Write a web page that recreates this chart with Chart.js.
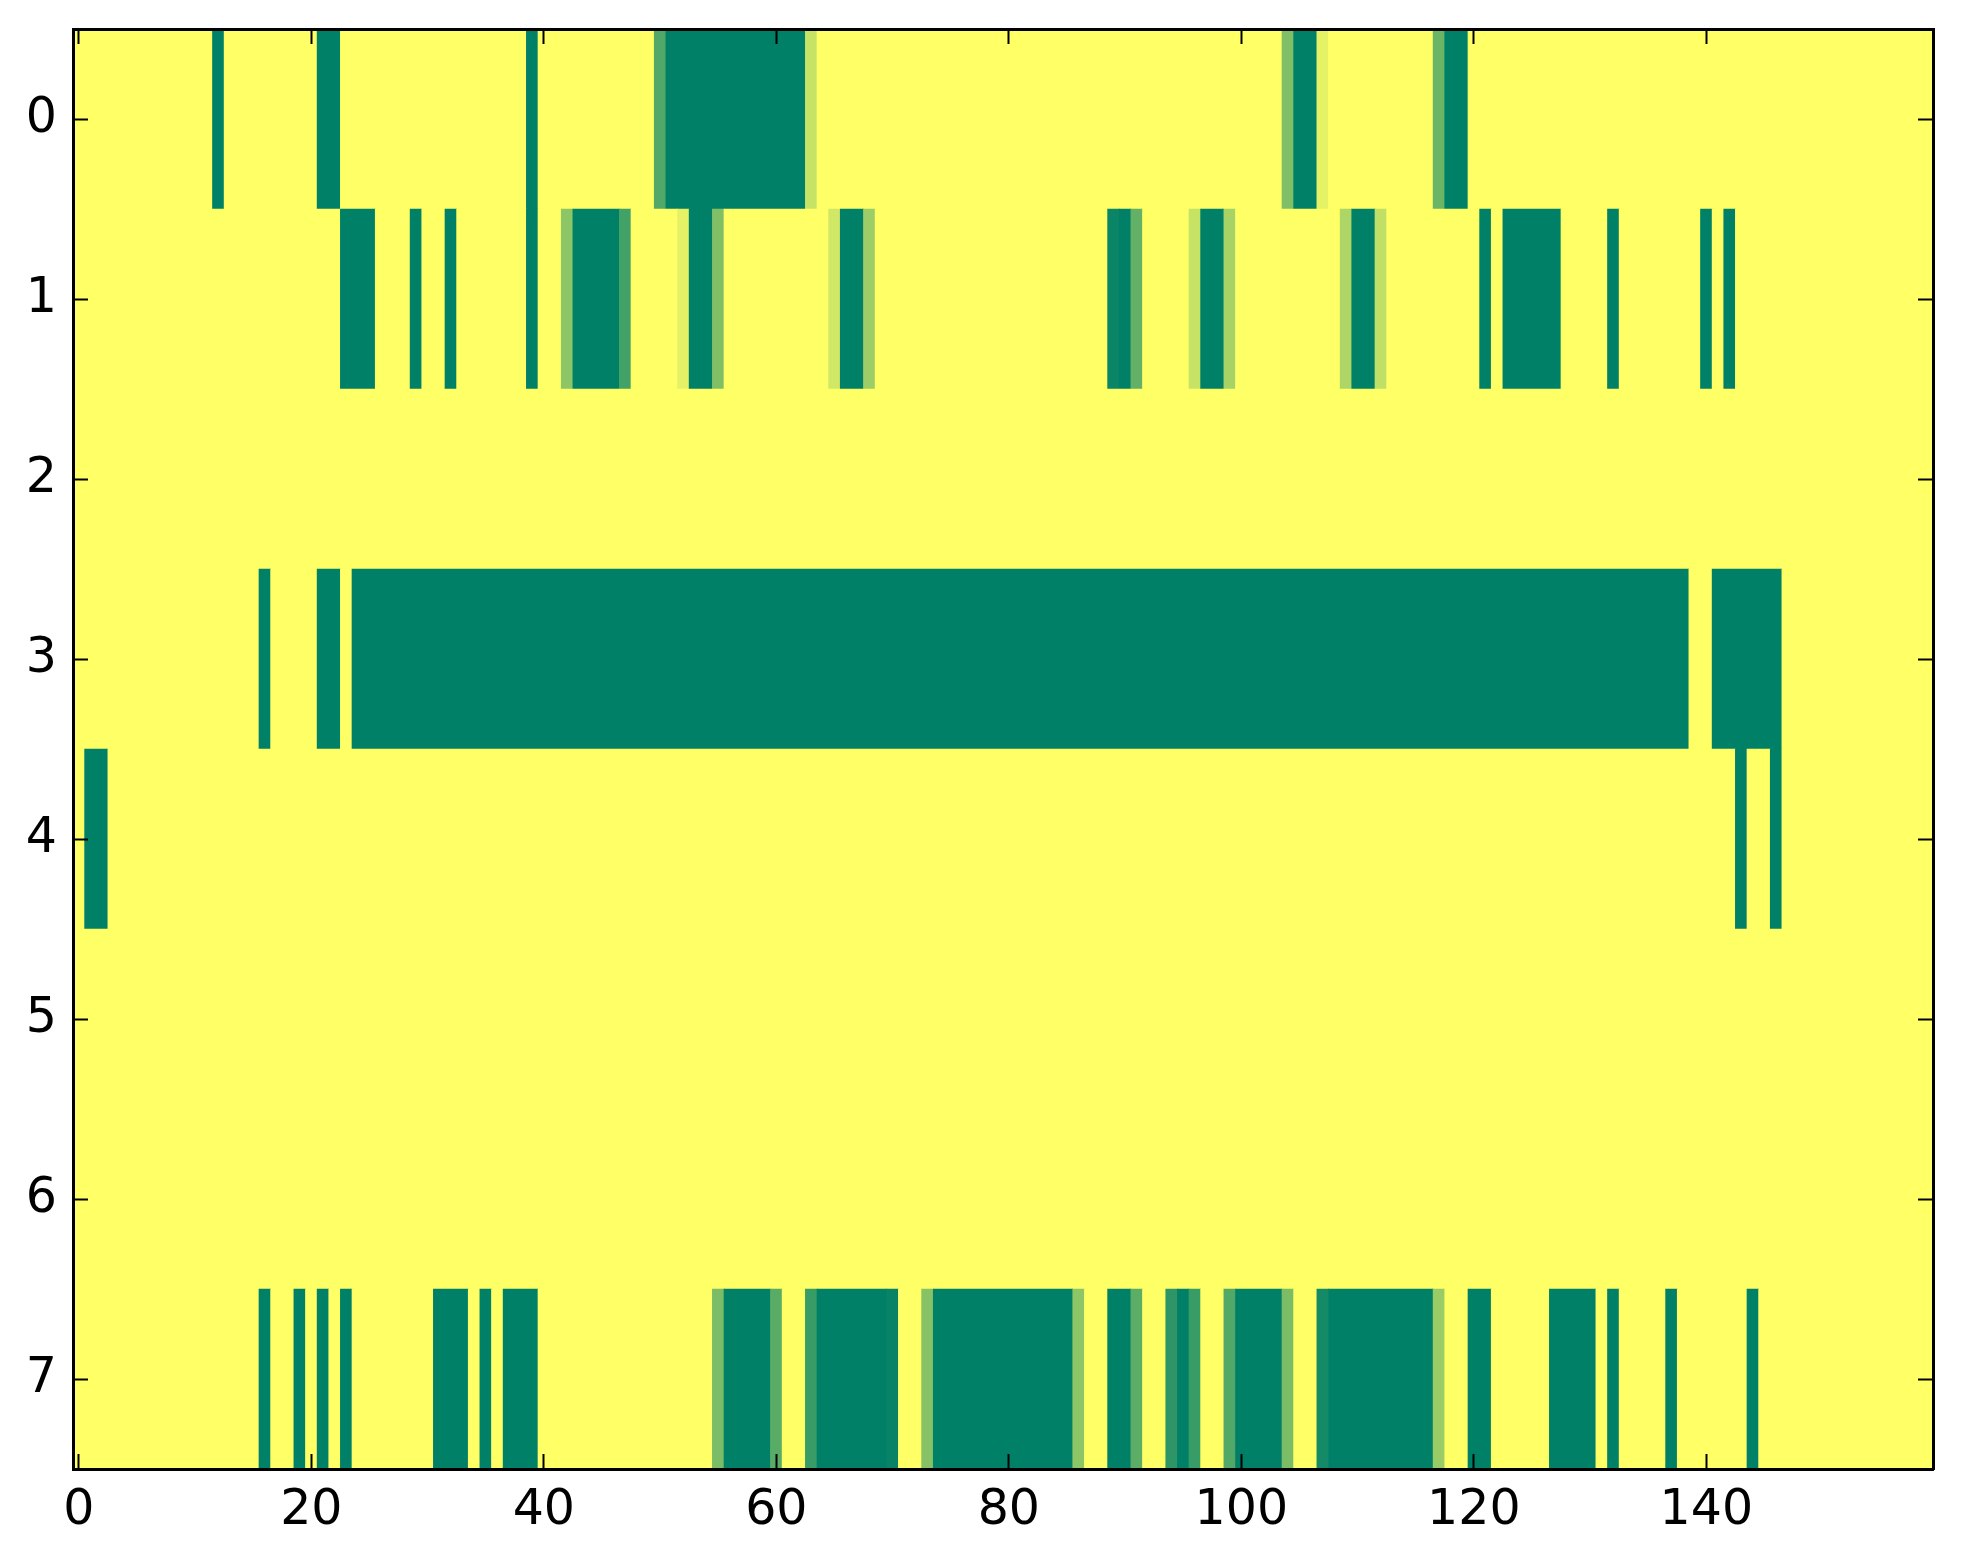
<!DOCTYPE html>
<html>
<head>
<meta charset="utf-8">
<script src="https://cdn.jsdelivr.net/npm/chart.js@4/dist/chart.umd.min.js"></script>
<style>
html,body{margin:0;padding:0;background:#ffffff;}
#wrap{width:1963px;height:1564px;position:relative;}
</style>
</head>
<body>
<div id="wrap"><canvas id="c"></canvas></div>
<script>
// Row categories (y axis, top to bottom)
const rowLabels = ['0','1','2','3','4','5','6','7'];
// x axis range (cell centres 0..159) and tick values
const xMin = -0.5;
const xMax = 159.5;
const xTicks = [0, 20, 40, 60, 80, 100, 120, 140];

// Cell values per row, columns 0..159 (1 = yellow, 0 = dark green)
const row0 = [
  1,1,1,1,1,1,1,1,1,1,   1,1,0,1,1,1,1,1,1,1,
  1,0,0,1,1,1,1,1,1,1,   1,1,1,1,1,1,1,1,1,0,
  1,1,1,1,1,1,1,1,1,1,   0.32,0,0,0,0,0,0,0,0,0,
  0,0,0,0.78,1,1,1,1,1,1, 1,1,1,1,1,1,1,1,1,1,
  1,1,1,1,1,1,1,1,1,1,   1,1,1,1,1,1,1,1,1,1,
  1,1,1,1,0.5,0,0,0.9,1,1, 1,1,1,1,1,1,1,0.42,0,0,
  1,1,1,1,1,1,1,1,1,1,   1,1,1,1,1,1,1,1,1,1,
  1,1,1,1,1,1,1,1,1,1,   1,1,1,1,1,1,1,1,1,1
];
const row1 = [
  1,1,1,1,1,1,1,1,1,1,   1,1,1,1,1,1,1,1,1,1,
  1,1,1,0,0,0,1,1,1,0,   1,1,0,1,1,1,1,1,1,0,
  1,1,0.55,0,0,0,0,0.26,1,1, 1,1,0.9,0,0,0.5,1,1,1,1,
  1,1,1,1,1,0.82,0,0,0.61,1, 1,1,1,1,1,1,1,1,1,1,
  1,1,1,1,1,1,1,1,1,0.04, 0,0.39,1,1,1,1,0.78,0,0,0.65,
  1,1,1,1,1,1,1,1,1,0.68, 0,0,0.75,1,1,1,1,1,1,1,
  1,0,1,0,0,0,0,0,1,1,   1,1,0,1,1,1,1,1,1,1,
  0,1,0,1,1,1,1,1,1,1,   1,1,1,1,1,1,1,1,1,1
];
const row2 = [
  1,1,1,1,1,1,1,1,1,1,   1,1,1,1,1,1,1,1,1,1,
  1,1,1,1,1,1,1,1,1,1,   1,1,1,1,1,1,1,1,1,1,
  1,1,1,1,1,1,1,1,1,1,   1,1,1,1,1,1,1,1,1,1,
  1,1,1,1,1,1,1,1,1,1,   1,1,1,1,1,1,1,1,1,1,
  1,1,1,1,1,1,1,1,1,1,   1,1,1,1,1,1,1,1,1,1,
  1,1,1,1,1,1,1,1,1,1,   1,1,1,1,1,1,1,1,1,1,
  1,1,1,1,1,1,1,1,1,1,   1,1,1,1,1,1,1,1,1,1,
  1,1,1,1,1,1,1,1,1,1,   1,1,1,1,1,1,1,1,1,1
];
const row3 = [
  1,1,1,1,1,1,1,1,1,1,   1,1,1,1,1,1,0,1,1,1,
  1,0,0,1,0,0,0,0,0,0,   0,0,0,0,0,0,0,0,0,0,
  0,0,0,0,0,0,0,0,0,0,   0,0,0,0,0,0,0,0,0,0,
  0,0,0,0,0,0,0,0,0,0,   0,0,0,0,0,0,0,0,0,0,
  0,0,0,0,0,0,0,0,0,0,   0,0,0,0,0,0,0,0,0,0,
  0,0,0,0,0,0,0,0,0,0,   0,0,0,0,0,0,0,0,0,0,
  0,0,0,0,0,0,0,0,0,0,   0,0,0,0,0,0,0,0,0,1,
  1,0,0,0,0,0,0,1,1,1,   1,1,1,1,1,1,1,1,1,1
];
const row4 = [
  1,0,0,1,1,1,1,1,1,1,   1,1,1,1,1,1,1,1,1,1,
  1,1,1,1,1,1,1,1,1,1,   1,1,1,1,1,1,1,1,1,1,
  1,1,1,1,1,1,1,1,1,1,   1,1,1,1,1,1,1,1,1,1,
  1,1,1,1,1,1,1,1,1,1,   1,1,1,1,1,1,1,1,1,1,
  1,1,1,1,1,1,1,1,1,1,   1,1,1,1,1,1,1,1,1,1,
  1,1,1,1,1,1,1,1,1,1,   1,1,1,1,1,1,1,1,1,1,
  1,1,1,1,1,1,1,1,1,1,   1,1,1,1,1,1,1,1,1,1,
  1,1,1,0,1,1,0,1,1,1,   1,1,1,1,1,1,1,1,1,1
];
const row5 = [
  1,1,1,1,1,1,1,1,1,1,   1,1,1,1,1,1,1,1,1,1,
  1,1,1,1,1,1,1,1,1,1,   1,1,1,1,1,1,1,1,1,1,
  1,1,1,1,1,1,1,1,1,1,   1,1,1,1,1,1,1,1,1,1,
  1,1,1,1,1,1,1,1,1,1,   1,1,1,1,1,1,1,1,1,1,
  1,1,1,1,1,1,1,1,1,1,   1,1,1,1,1,1,1,1,1,1,
  1,1,1,1,1,1,1,1,1,1,   1,1,1,1,1,1,1,1,1,1,
  1,1,1,1,1,1,1,1,1,1,   1,1,1,1,1,1,1,1,1,1,
  1,1,1,1,1,1,1,1,1,1,   1,1,1,1,1,1,1,1,1,1
];
const row6 = [
  1,1,1,1,1,1,1,1,1,1,   1,1,1,1,1,1,1,1,1,1,
  1,1,1,1,1,1,1,1,1,1,   1,1,1,1,1,1,1,1,1,1,
  1,1,1,1,1,1,1,1,1,1,   1,1,1,1,1,1,1,1,1,1,
  1,1,1,1,1,1,1,1,1,1,   1,1,1,1,1,1,1,1,1,1,
  1,1,1,1,1,1,1,1,1,1,   1,1,1,1,1,1,1,1,1,1,
  1,1,1,1,1,1,1,1,1,1,   1,1,1,1,1,1,1,1,1,1,
  1,1,1,1,1,1,1,1,1,1,   1,1,1,1,1,1,1,1,1,1,
  1,1,1,1,1,1,1,1,1,1,   1,1,1,1,1,1,1,1,1,1
];
const row7 = [
  1,1,1,1,1,1,1,1,1,1,   1,1,1,1,1,1,0,1,1,0,
  1,0,1,0,1,1,1,1,1,1,   1,0,0,0,1,0,1,0,0,0,
  1,1,1,1,1,1,1,1,1,1,   1,1,1,1,1,0.48,0,0,0,0,
  0.35,1,1,0.22,0,0,0,0,0,0, 0.03,1,1,0.53,0,0,0,0,0,0,
  0,0,0,0,0,0,0.55,1,1,0, 0,0.36,1,1,0.18,0,0.22,1,1,0.32,
  0,0,0,0,0.48,1,1,0.08,0,0, 0,0,0,0,0,0,0,0.6,1,1,
  0,0,1,1,1,1,1,0,0,0,   0,1,0,1,1,1,1,0,1,1,
  1,1,1,1,0,1,1,1,1,1,   1,1,1,1,1,1,1,1,1,1
];
const rows = [row0,row1,row2,row3,row4,row5,row6,row7];

// matplotlib "summer" colormap
function summer(v){
  const r = Math.round(255*v);
  const g = Math.round(255*(0.5+v/2));
  return 'rgb('+r+','+g+',102)';
}

// Merge equal neighbouring cells into floating bars
const cells = [];
rows.forEach((vals, r) => {
  let s = 0;
  for (let c = 1; c <= vals.length; c++) {
    if (c === vals.length || vals[c] !== vals[s]) {
      cells.push({x: [s - 0.5, c - 0.5], y: rowLabels[r], v: vals[s]});
      s = c;
    }
  }
});

const FONT = {family: "'DejaVu Sans', sans-serif", size: 49};
const gridOpts = {drawOnChartArea:false, drawTicks:true, tickLength:-15, tickWidth:2, tickColor:'#000000', offset:false, z:1};
const borderOpts = {display:true, color:'#000000', width:3, z:1};
function noPad(s){ s.paddingTop = 0; s.paddingBottom = 0; s.paddingLeft = 0; s.paddingRight = 0; }
function setXTicks(s){ s.ticks = xTicks.map(v => ({value: v})); }

new Chart(document.getElementById('c'), {
  type: 'bar',
  data: {
    labels: rowLabels,
    datasets: [{
      data: cells,
      backgroundColor: (ctx) => summer(ctx.raw ? ctx.raw.v : 1),
      borderWidth: 0,
      barPercentage: 1,
      categoryPercentage: 1,
      grouped: false
    }]
  },
  options: {
    indexAxis: 'y',
    responsive: true,
    maintainAspectRatio: false,
    animation: false,
    layout: {padding: {top: 29, right: 30, left: 0, bottom: 0}},
    plugins: {legend: {display: false}, tooltip: {enabled: false}},
    scales: {
      x: {
        type: 'linear', position: 'bottom', min: xMin, max: xMax,
        afterBuildTicks: setXTicks,
        ticks: {font: FONT, color: '#000000', padding: 28, maxRotation: 0, autoSkip: false, z: 1},
        grid: gridOpts, border: borderOpts,
        afterFit: (s) => { s.height = 95; noPad(s); }
      },
      x2: {
        type: 'linear', position: 'top', min: xMin, max: xMax,
        afterBuildTicks: setXTicks,
        ticks: {display: false, autoSkip: false},
        grid: gridOpts, border: borderOpts,
        afterFit: (s) => { s.height = 0; noPad(s); }
      },
      y: {
        type: 'category', position: 'left', offset: true,
        ticks: {font: FONT, color: '#000000', padding: 31, z: 1},
        grid: gridOpts, border: borderOpts,
        afterFit: (s) => { s.width = 73; noPad(s); }
      },
      y2: {
        type: 'category', position: 'right', offset: true,
        ticks: {display: false},
        grid: gridOpts, border: borderOpts,
        afterFit: (s) => { s.width = 0; noPad(s); }
      }
    }
  }
});
</script>
</body>
</html>
